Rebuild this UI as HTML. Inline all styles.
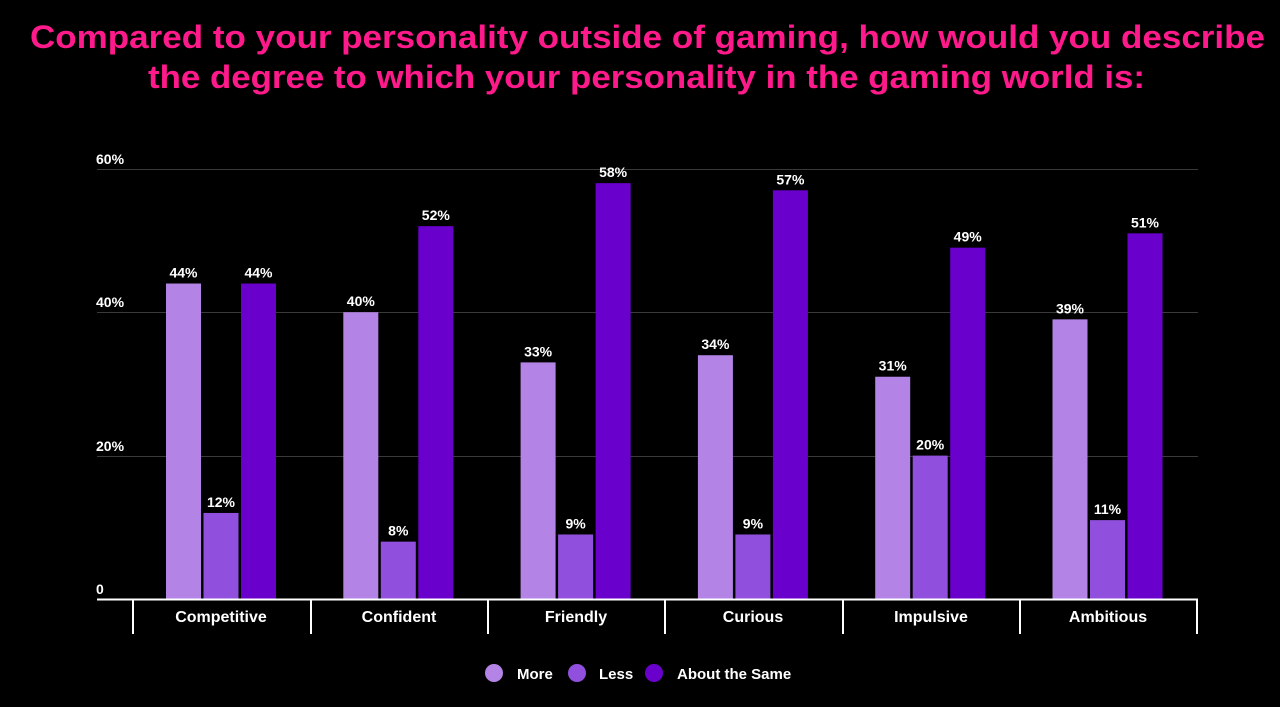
<!DOCTYPE html>
<html><head><style>
html,body{margin:0;padding:0;background:#000;width:1280px;height:707px;overflow:hidden}
text{font-family:"Liberation Sans",sans-serif;font-weight:bold}
</style></head><body>
<svg width="1280" height="707" xmlns="http://www.w3.org/2000/svg">
<rect width="1280" height="707" fill="#000"/>
<text x="30" y="48" fill="#ff1a8c" font-size="32" textLength="1235" lengthAdjust="spacingAndGlyphs">Compared to your personality outside of gaming, how would you describe</text>
<text x="148" y="88" fill="#ff1a8c" font-size="32" textLength="997" lengthAdjust="spacingAndGlyphs">the degree to which your personality in the gaming world is:</text>
<g stroke="#3a3a3a" stroke-width="1">
<line x1="97" y1="169.5" x2="1198" y2="169.5"/>
<line x1="97" y1="312.5" x2="1198" y2="312.5"/>
<line x1="97" y1="456.5" x2="1198" y2="456.5"/>
</g>
<g fill="#fff" font-size="14">
<text x="96" y="164">60%</text><text x="96" y="307">40%</text><text x="96" y="451">20%</text><text x="96" y="594">0</text>
</g>
<g id="bars"></g>
<line x1="97" y1="599.5" x2="1198" y2="599.5" stroke="#fff" stroke-width="2"/>
<g stroke="#fff" stroke-width="2">
<line x1="133" y1="600" x2="133" y2="634"/><line x1="311" y1="600" x2="311" y2="634"/><line x1="488" y1="600" x2="488" y2="634"/><line x1="665" y1="600" x2="665" y2="634"/><line x1="843" y1="600" x2="843" y2="634"/><line x1="1020" y1="600" x2="1020" y2="634"/><line x1="1197" y1="600" x2="1197" y2="634"/>
</g>
<g fill="#fff" font-size="16" text-anchor="middle">
<text x="221" y="622">Competitive</text><text x="399" y="622">Confident</text><text x="576" y="622">Friendly</text><text x="753" y="622">Curious</text><text x="931" y="622">Impulsive</text><text x="1108" y="622">Ambitious</text>
</g>
<circle cx="494" cy="673" r="9" fill="#b384e6"/><text x="517" y="679" fill="#fff" font-size="15">More</text>
<circle cx="577" cy="673" r="9" fill="#9050dd"/><text x="599" y="679" fill="#fff" font-size="15">Less</text>
<circle cx="654" cy="673" r="9" fill="#6a00cc"/><text x="677" y="679" fill="#fff" font-size="15">About the Same</text>
</svg>
<script>
var d=[[44,12,44],[40,8,52],[33,9,58],[34,9,57],[31,20,49],[39,11,51]];
var c=["#b384e6","#9050dd","#6a00cc"],g=document.getElementById("bars"),s="";
d.forEach(function(r,i){r.forEach(function(v,j){var x=133+i*177.3+33+j*37.5,y=599-v*7.17;
s+='<rect x="'+x+'" y="'+y+'" width="35" height="'+(599-y)+'" fill="'+c[j]+'"/>';
s+='<text x="'+(x+17.5)+'" y="'+(y-6)+'" fill="#fff" font-size="14" text-anchor="middle">'+v+'%</text>';});});
g.innerHTML=s;
</script>
</body></html>
